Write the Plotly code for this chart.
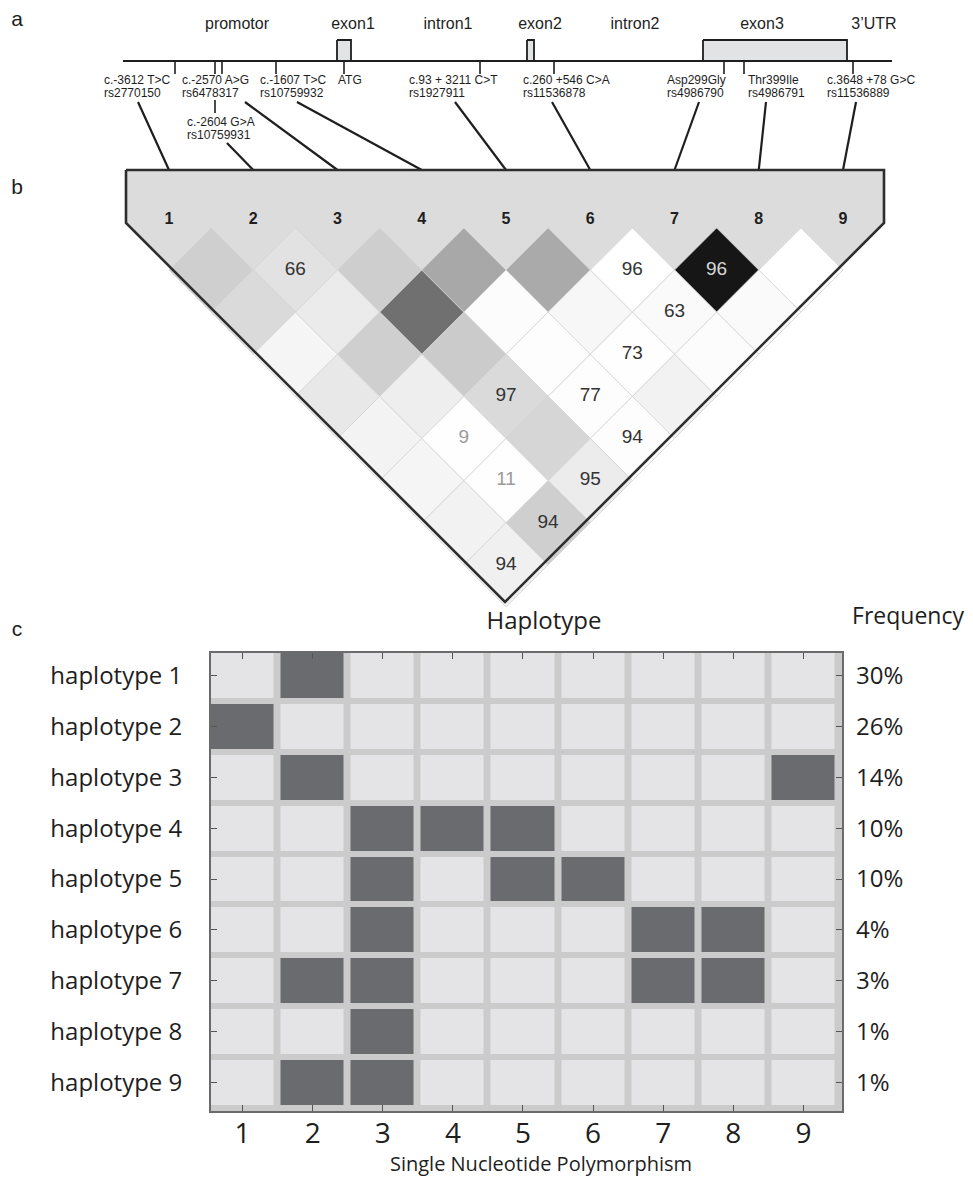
import plotly.graph_objects as go

# ======================= DATA =======================
panel_letters = ["a", "b", "c"]
gene_regions = ["promotor", "exon1", "intron1", "exon2", "intron2", "exon3", "3\u2019UTR"]
snp_ids = ["1", "2", "3", "4", "5", "6", "7", "8", "9"]
snp_changes = ["c.-3612 T>C", "c.-2604 G>A", "c.-2570 A>G", "c.-1607 T>C",
               "c.93 + 3211 C>T", "c.260 +546 C>A", "Asp299Gly", "Thr399Ile",
               "c.3648 +78 G>C"]
snp_rs = ["rs2770150", "rs10759931", "rs6478317", "rs10759932", "rs1927911",
          "rs11536878", "rs4986790", "rs4986791", "rs11536889"]
start_codon = "ATG"

# LD plot: grey level per SNP pair (0 = black, 255 = white), rows = SNP distance 1..8
ld_shade = [
    [207, 226, 206, 168, 170, 255, 22, 255],
    [218, 235, 112, 252, 247, 250, 250],
    [245, 207, 203, 253, 254, 252],
    [232, 238, 218, 253, 242],
    [243, 254, 214, 253],
    [245, 254, 236],
    [242, 207],
    [240],
]
# D' values printed in the cells (None = blank)
ld_values = [
    [None, 66, None, None, None, 96, 96, None],
    [None, None, None, None, None, 63, None],
    [None, None, None, None, 73, None],
    [None, None, 97, 77, None],
    [None, 9, None, 94],
    [None, 11, 95],
    [None, 94],
    [94],
]

haplotype_names = ["haplotype 1", "haplotype 2", "haplotype 3", "haplotype 4", "haplotype 5",
                   "haplotype 6", "haplotype 7", "haplotype 8", "haplotype 9"]
haplotype_freq = ["30%", "26%", "14%", "10%", "10%", "4%", "3%", "1%", "1%"]
haplotype_alleles = [
    [0, 1, 0, 0, 0, 0, 0, 0, 0],
    [1, 0, 0, 0, 0, 0, 0, 0, 0],
    [0, 1, 0, 0, 0, 0, 0, 0, 1],
    [0, 0, 1, 1, 1, 0, 0, 0, 0],
    [0, 0, 1, 0, 1, 1, 0, 0, 0],
    [0, 0, 1, 0, 0, 0, 1, 1, 0],
    [0, 1, 1, 0, 0, 0, 1, 1, 0],
    [0, 0, 1, 0, 0, 0, 0, 0, 0],
    [0, 1, 1, 0, 0, 0, 0, 0, 0],
]
title_haplotype = "Haplotype"
title_frequency = "Frequency"
title_snp = "Single Nucleotide Polymorphism"

# ======================= LAYOUT GEOMETRY (page pixel space) =======================
W, H = 973, 1186
OFF = 8                      # page body margin: figure starts at (8, 8)
FW, FH = W - 2 * OFF, H - 2 * OFF
ARIAL = "Liberation Sans, Arial, sans-serif"
MYR = "Open Sans, Lato, sans-serif"
INK = "#1e1e1e"

GENE_Y = 61
GENE_SPAN = (123, 892)
BOX_TOP = 40
box_spans = [(337, 351), (527, 534), (703, 847)]
region_label_x = [237, 353, 448, 540, 635, 762, 874]
REGION_Y = 25
snp_tick_x = [175, 215, 222, 276, 480, 554, 724, 744, 853]
ATG_X, ATG_LABEL_X = 344, 338
TICK_LEN = 13
label_left = [104, 187, 182, 260, 409, 523, 667, 748, 827]
label_row = [0, 1, 0, 0, 0, 0, 0, 0, 0]
LABEL_Y = [(81, 94), (123, 136)]
conn_top = [(138, 102), (227, 143), (245, 102), (297, 102), (455, 102),
            (552, 102), (699, 102), (766, 102), (856, 102)]

TRI_L, TRI_R, TRI_TOP, TRI_SIDE = 126, 884, 170, 223
LD_X0, LD_DX, LD_Y0, HEAD_Y = 169, 84.25, 270, 220

GRID_L, GRID_R, GRID_T, GRID_B = 211, 842, 653, 1111

fig = go.Figure()


def lines(xs, ys, color=INK, width=1.6):
    fig.add_trace(go.Scatter(x=xs, y=ys, mode="lines", line=dict(color=color, width=width),
                             hoverinfo="skip", showlegend=False))


def texts(xs, ys, labels, size, color=INK, pos="middle center", family=ARIAL):
    fig.add_trace(go.Scatter(x=xs, y=ys, mode="text", text=labels, textposition=pos,
                             textfont=dict(family=family, size=size, color=color),
                             hoverinfo="skip", showlegend=False, cliponaxis=False))


# ---------- panel letters ----------
texts([17, 17, 17], [21, 189, 631], panel_letters, 21)

# ---------- panel a: gene schematic ----------
lines([GENE_SPAN[0], GENE_SPAN[1]], [GENE_Y, GENE_Y], width=1.8)
for x0, x1 in box_spans:
    fig.add_trace(go.Scatter(x=[x0, x1, x1, x0, x0], y=[BOX_TOP, BOX_TOP, GENE_Y, GENE_Y, BOX_TOP],
                             mode="lines", fill="toself", fillcolor="#e2e3e4",
                             line=dict(color=INK, width=1.8), hoverinfo="skip", showlegend=False))
texts(region_label_x, [REGION_Y] * len(gene_regions), gene_regions, 16)

tx, ty = [], []
for x in snp_tick_x + [ATG_X]:
    tx += [x, x, None]
    ty += [GENE_Y, GENE_Y + TICK_LEN, None]
# extra stem to the lower label
tx += [snp_tick_x[1], snp_tick_x[1], None]
ty += [LABEL_Y[0][1] + 6, LABEL_Y[1][0] - 10, None]
lines(tx, ty, width=1.6)

for k in range(9):
    r = label_row[k]
    texts([label_left[k]], [LABEL_Y[r][0]], [snp_changes[k]], 12, pos="middle right")
    texts([label_left[k]], [LABEL_Y[r][1]], [snp_rs[k]], 12, pos="middle right")
texts([ATG_LABEL_X], [LABEL_Y[0][0]], [start_codon], 12, pos="middle right")

cx, cy = [], []
for k, (x0, y0) in enumerate(conn_top):
    cx += [x0, LD_X0 + k * LD_DX, None]
    cy += [y0, TRI_TOP, None]
lines(cx, cy, width=2.2)

# ---------- panel b: LD triangle ----------
apex_x = (TRI_L + TRI_R) / 2
apex_y = TRI_R + TRI_SIDE - apex_x
outline_x = [TRI_L, TRI_R, TRI_R, apex_x, TRI_L, TRI_L]
outline_y = [TRI_TOP, TRI_TOP, TRI_SIDE, apex_y, TRI_SIDE, TRI_TOP]
fig.add_trace(go.Scatter(x=outline_x, y=outline_y, mode="lines", fill="toself", fillcolor="#dcdcdc",
                         line=dict(width=0), hoverinfo="skip", showlegend=False))

half = LD_DX / 2
vx, vy, vt, vc = [], [], [], []
for d, (shades, vals) in enumerate(zip(ld_shade, ld_values), start=1):
    for k, (s, v) in enumerate(zip(shades, vals)):
        cxd = LD_X0 + (k + d / 2) * LD_DX
        cyd = LD_Y0 + (d - 1) * half
        fig.add_trace(go.Scatter(
            x=[cxd, cxd + half, cxd, cxd - half, cxd],
            y=[cyd - half, cyd, cyd + half, cyd, cyd - half],
            mode="lines", fill="toself", fillcolor=f"rgb({s},{s},{s})",
            line=dict(color="#d4d4d4", width=0.8), hoverinfo="skip", showlegend=False))
        if v is not None:
            vx.append(cxd)
            vy.append(cyd)
            vt.append(str(v))
            if s < 80:
                vc.append("#d8d8d8")
            elif v < 50:
                vc.append("#9a9a9a")
            else:
                vc.append("#333333")

fig.add_trace(go.Scatter(x=outline_x, y=outline_y, mode="lines",
                         line=dict(color="#2e2e2e", width=2.6), hoverinfo="skip", showlegend=False))
texts([LD_X0 + k * LD_DX for k in range(9)], [HEAD_Y] * 9, [f"<b>{s}</b>" for s in snp_ids], 16)
fig.add_trace(go.Scatter(x=vx, y=vy, mode="text", text=vt, textposition="middle center",
                         textfont=dict(family=ARIAL, size=19, color=vc),
                         hoverinfo="skip", showlegend=False))

# ---------- panel c: haplotypes ----------
texts([544], [623], [title_haplotype], 24, family=MYR)
texts([908], [618], [title_frequency], 23, family=MYR)
texts([541], [1166], [title_snp], 20, family=MYR)

idx = list(range(1, 10))
fig.add_trace(go.Heatmap(z=haplotype_alleles, x=idx, y=idx, xaxis="x2", yaxis="y2",
                         colorscale=[[0, "#e4e4e6"], [1, "#6a6b6f"]], zmin=0, zmax=1,
                         showscale=False, xgap=7, ygap=6, hoverinfo="skip"))
fig.add_trace(go.Scatter(x=[1], y=[1], xaxis="x2", yaxis="y3", mode="markers",
                         marker=dict(opacity=0), hoverinfo="skip", showlegend=False))

fig.add_shape(type="rect", xref="x2 domain", yref="y2 domain", x0=0, x1=1, y0=0, y1=1,
              fillcolor="#cbcbcb", line=dict(width=0), layer="below")

grid_font = dict(family=MYR, size=24, color=INK)
yr = [9.5 + 0.059, 0.5 + 0.059]
xdom = [(GRID_L - OFF) / FW, (GRID_R - OFF) / FW]
ydom = [1 - (GRID_B - OFF) / FH, 1 - (GRID_T - OFF) / FH]
fig.update_layout(
    width=FW, height=FH, margin=dict(l=0, r=0, t=0, b=0),
    paper_bgcolor="white", plot_bgcolor="rgba(0,0,0,0)", showlegend=False,
    xaxis=dict(domain=[0, 1], range=[OFF, W - OFF], visible=False, fixedrange=True),
    yaxis=dict(domain=[0, 1], range=[H - OFF, OFF], visible=False, fixedrange=True),
    xaxis2=dict(domain=xdom, anchor="y2", range=[0.55, 9.55],
                tickvals=idx, ticktext=snp_ids, ticks="inside", ticklen=6, tickwidth=1.2,
                tickcolor="#555", showline=True, linecolor="#6b6b6b", linewidth=1.8,
                mirror="ticks", showgrid=False, zeroline=False,
                tickfont=dict(family=MYR, size=28, color=INK), ticklabelstandoff=-4),
    yaxis2=dict(domain=ydom, anchor="x2", range=yr,
                tickvals=idx, ticktext=haplotype_names, ticks="inside", ticklen=6, tickwidth=1.2,
                tickcolor="#555", showline=True, linecolor="#6b6b6b", linewidth=1.8,
                mirror="ticks", showgrid=False, zeroline=False,
                tickfont=grid_font, ticklabelstandoff=22),
    yaxis3=dict(overlaying="y2", anchor="x2", side="right", range=yr,
                tickvals=idx, ticktext=haplotype_freq, ticks="", showline=False,
                showgrid=False, zeroline=False, tickfont=grid_font, ticklabelstandoff=13),
)

fig.write_html("out.html")
